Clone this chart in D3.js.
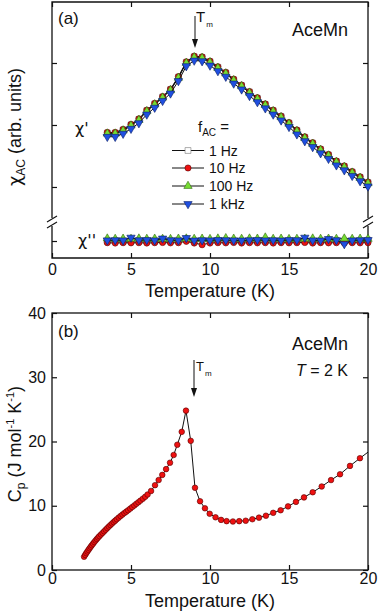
<!DOCTYPE html>
<html>
<head>
<meta charset="utf-8">
<script src="https://cdnjs.cloudflare.com/ajax/libs/d3/7.8.5/d3.min.js"></script>
<style>
body { margin: 0; background: #fff; }
text { font-family: "Liberation Sans", Arial, sans-serif; fill: #111; }
.greek { font-family: "DejaVu Sans", sans-serif; }
</style>
</head>
<body>
<script>
// ---------------- data ----------------

// panel (a): AC susceptibility, temperatures in K
const tempAC = [3.5, 4, 4.5, 5, 5.5, 6, 6.5, 7, 7.5, 8, 8.5, 9, 9.5, 10, 10.5, 11, 11.5,
    12, 12.5, 13, 13.5, 14, 14.5, 15, 15.5, 16, 16.5, 17, 17.5, 18, 18.5, 19, 19.5, 20];

// chi' (arb. units)
const chi1Hz = [1.87, 1.87, 1.92, 2.00, 2.09, 2.23, 2.34, 2.45, 2.57, 2.77, 3.01, 3.10, 3.09, 3.02, 2.93, 2.84, 2.73,
    2.635, 2.53, 2.43, 2.33, 2.23, 2.135, 2.03, 1.91, 1.80, 1.705, 1.605, 1.515, 1.41, 1.33, 1.24, 1.155, 1.07];
const chi10Hz = [1.88, 1.88, 1.93, 2.01, 2.10, 2.24, 2.35, 2.46, 2.58, 2.78, 3.02, 3.11, 3.10, 3.03, 2.94, 2.85, 2.74,
    2.645, 2.54, 2.44, 2.34, 2.24, 2.145, 2.04, 1.92, 1.81, 1.715, 1.615, 1.525, 1.42, 1.34, 1.25, 1.165, 1.08];
const chi100Hz = [1.86, 1.86, 1.91, 1.99, 2.08, 2.22, 2.33, 2.44, 2.56, 2.76, 3.00, 3.09, 3.08, 3.01, 2.92, 2.83, 2.72,
    2.625, 2.52, 2.42, 2.32, 2.22, 2.125, 2.02, 1.90, 1.79, 1.695, 1.595, 1.505, 1.40, 1.32, 1.23, 1.145, 1.06];
const chi1kHz = [1.81, 1.81, 1.86, 1.94, 2.03, 2.17, 2.28, 2.39, 2.51, 2.71, 2.95, 3.04, 3.03, 2.96, 2.87, 2.78, 2.67,
    2.575, 2.47, 2.37, 2.27, 2.17, 2.075, 1.97, 1.85, 1.74, 1.645, 1.545, 1.455, 1.35, 1.27, 1.18, 1.095, 1.01];

// chi'' (arb. units, drawn below the axis break)
const chi2_1Hz = [0, 0.02, -0.02, 0, 0.01, -0.01, 0, 0.02, 0, 0.05, 0.08, 0, 0, -0.01, 0.02, 0, 0.01,
    -0.02, 0, 0.01, 0, -0.01, 0.02, 0, 0.03, 0, -0.02, 0.01, 0, 0.02, 0, -0.01, 0.03, 0.05];
const chi2_10Hz = [-0.1, -0.12, -0.1, -0.11, -0.1, -0.12, -0.1, -0.09, -0.11, -0.1, -0.02, -0.12, -0.22, -0.12, -0.1, -0.11, -0.09,
    -0.12, -0.1, -0.11, -0.1, -0.12, -0.1, -0.11, -0.1, -0.09, -0.12, -0.1, -0.11, -0.1, -0.12, -0.1, -0.11, -0.1];
const chi2_100Hz = [0.14, 0.12, 0.13, 0.12, 0.14, 0.12, 0.13, 0.12, 0.11, 0.13, 0.14, 0.12, 0.13, 0.11, 0.14, 0.16, 0.13,
    0.12, 0.14, 0.13, 0.2, 0.12, 0.13, 0.11, 0.12, 0.13, 0.14, 0.12, 0.13, 0.12, 0.14, 0.12, 0.13, 0.12];
const chi2_1kHz = [0.04, 0.05, 0.04, 0.2, 0.05, 0.06, 0.04, 0.15, 0.05, 0.04, 0.18, 0.03, 0.05, 0.04, 0.06, 0.05, 0.04,
    0.03, 0.05, 0.06, 0.04, 0.05, 0.03, 0.06, 0.05, 0.2, 0.04, 0.03, 0.12, 0.05, -0.18, 0.04, 0.05, 0.06];

const freqLabels = ['1 Hz', '10 Hz', '100 Hz', '1 kHz'];

// panel (b): heat capacity
const tempCp = [2.03, 2.10, 2.17, 2.24, 2.31, 2.38, 2.45, 2.52, 2.60, 2.68, 2.76, 2.84, 2.92, 3.00,
    3.10, 3.20, 3.30, 3.40, 3.50, 3.60, 3.70, 3.80, 3.90, 4.00, 4.10, 4.22, 4.34, 4.46, 4.58, 4.70,
    4.82, 4.95, 5.08, 5.21, 5.34, 5.47, 5.60, 5.75, 5.90, 6.05, 6.27, 6.52, 6.75, 6.98, 7.22, 7.47,
    7.70, 7.93, 8.21, 8.48, 8.78, 9.05, 9.37, 9.68, 9.98, 10.35, 10.7, 11.05, 11.45, 11.85, 12.26,
    12.68, 13.1, 13.54, 14.0, 14.47, 14.94, 15.44, 15.95, 16.5, 17.07, 17.66, 18.23, 18.86, 19.49, 20.3];
const cp = [2.07, 2.35, 2.62, 2.88, 3.13, 3.38, 3.62, 3.85, 4.1, 4.35, 4.6, 4.83, 5.05, 5.27,
    5.52, 5.77, 6.02, 6.27, 6.52, 6.76, 7.0, 7.23, 7.46, 7.68, 7.9, 8.15, 8.4, 8.63, 8.86, 9.08,
    9.3, 9.55, 9.8, 10.05, 10.3, 10.55, 10.8, 11.1, 11.4, 11.75, 12.3, 13.2, 14.0, 14.8, 15.7, 16.7,
    17.9, 19.5, 21.5, 24.8, 20.1, 12.8, 10.7, 9.6, 8.75, 8.2, 7.8, 7.6, 7.55, 7.6, 7.67,
    7.9, 8.15, 8.45, 8.9, 9.3, 9.9, 10.6, 11.3, 12.1, 13.0, 14.0, 14.9, 16.2, 17.4, 18.9];

const xTicks = [0, 5, 10, 15, 20];
const cpTicks = [0, 10, 20, 30, 40];

// ---------------- svg setup ----------------

const svg = d3.select('body')
    .append('svg')
    .attr('width', 378)
    .attr('height', 611);

const left = 52, right = 368;
const panelA = { top: 2, brk: 222, bottom: 258 };
const panelB = { top: 313, bottom: 570 };

const x = d3.scaleLinear().domain([0, 20]).range([left, right]);

// upper part of (a) (chi') and lower part below the break (chi'')
const yChi = d3.scaleLinear().domain([0.435, 3.984]).range([panelA.brk, panelA.top]);
const yChi2 = d3.scaleLinear().domain([-1, 1.118]).range([panelA.bottom, panelA.brk]);
const yCp = d3.scaleLinear().domain([0, 40]).range([panelB.bottom, panelB.top]);

const colors = ['#ffffff', '#ee1111', '#77dd33', '#1f4fe0'];
const strokes = ['#777777', '#550000', '#336611', '#0a1f66'];
const shapes = [
    d3.symbol().type(d3.symbolSquare).size(34)(),
    d3.symbol().type(d3.symbolCircle).size(30)(),
    d3.symbol().type(d3.symbolTriangle).size(30)(),
    d3.symbol().type(d3.symbolTriangle).size(30)()
];
const rot = [0, 0, 0, 180];

// helper for inward ticks without the domain line
const styleAxis = g => {
    g.select('.domain').remove();
    g.selectAll('.tick line').attr('stroke', '#111').attr('stroke-width', 1.2);
    g.selectAll('.tick text')
        .attr('font-size', 16)
        .attr('font-family', '"Liberation Sans", Arial, sans-serif')
        .attr('fill', '#111');
};

// ---------------- panel (a) ----------------

const gA = svg.append('g');

// axes
gA.append('g').attr('transform', `translate(0,${panelA.bottom})`)
    .call(d3.axisBottom(x).tickValues(xTicks).tickSizeInner(-5).tickSizeOuter(0).tickPadding(6))
    .call(styleAxis);
gA.append('g').attr('transform', `translate(0,${panelA.top})`)
    .call(d3.axisTop(x).tickValues(xTicks).tickSizeInner(-5).tickSizeOuter(0).tickFormat(''))
    .call(styleAxis);
gA.append('g').attr('transform', `translate(${left},0)`)
    .call(d3.axisLeft(yChi).tickValues([1, 2, 3]).tickSizeInner(-5).tickSizeOuter(0).tickFormat(''))
    .call(styleAxis);
gA.append('g').attr('transform', `translate(${right},0)`)
    .call(d3.axisRight(yChi).tickValues([1, 2, 3]).tickSizeInner(-5).tickSizeOuter(0).tickFormat(''))
    .call(styleAxis);
gA.append('g').attr('transform', `translate(${left},0)`)
    .call(d3.axisLeft(yChi2).tickValues([0]).tickSizeInner(-5).tickSizeOuter(0).tickFormat(''))
    .call(styleAxis);
gA.append('g').attr('transform', `translate(${right},0)`)
    .call(d3.axisRight(yChi2).tickValues([0]).tickSizeInner(-5).tickSizeOuter(0).tickFormat(''))
    .call(styleAxis);

// frame with a gap at the break
const frame = d3.path();
frame.moveTo(left, panelA.brk - 4); frame.lineTo(left, panelA.top); frame.lineTo(right, panelA.top); frame.lineTo(right, panelA.brk - 4);
frame.moveTo(left, panelA.brk + 4); frame.lineTo(left, panelA.bottom); frame.lineTo(right, panelA.bottom); frame.lineTo(right, panelA.brk + 4);
gA.append('path').attr('d', frame.toString()).attr('fill', 'none').attr('stroke', '#111').attr('stroke-width', 1.3);

// break marks
[left, right].forEach(xb => {
    [-3, 3].forEach(off => {
        gA.append('line')
            .attr('x1', xb - 5).attr('y1', panelA.brk + off + 3)
            .attr('x2', xb + 5).attr('y2', panelA.brk + off - 3)
            .attr('stroke', '#111').attr('stroke-width', 1.1);
    });
});

// series: chi' and chi''
const chiSets = [chi1Hz, chi10Hz, chi100Hz, chi1kHz];
const chi2Sets = [chi2_1Hz, chi2_10Hz, chi2_100Hz, chi2_1kHz];

const drawSeries = (g, xs, ys, yScale, i) => {
    const pts = xs.map((t, k) => [x(t), yScale(ys[k])]);
    g.append('path')
        .attr('d', d3.line()(pts))
        .attr('fill', 'none')
        .attr('stroke', '#111')
        .attr('stroke-width', 1);
    g.selectAll(null)
        .data(pts)
        .enter()
        .append('path')
        .attr('d', shapes[i])
        .attr('transform', d => `translate(${d[0]},${d[1]}) rotate(${rot[i]})`)
        .attr('fill', colors[i])
        .attr('stroke', strokes[i])
        .attr('stroke-width', 0.6);
};

chiSets.forEach((s, i) => drawSeries(gA, tempAC, s, yChi, i));
chi2Sets.forEach((s, i) => drawSeries(gA, tempAC, s, yChi2, i));

// legend
const legY = [150.5, 168, 186, 204];
const fac = gA.append('text').attr('x', 198).attr('y', 132).attr('font-size', 15);
fac.append('tspan').text('f');
fac.append('tspan').attr('font-size', 10).attr('dy', 4).text('AC');
fac.append('tspan').attr('dy', -4).text(' =');

freqLabels.forEach((lab, i) => {
    gA.append('line')
        .attr('x1', 172).attr('x2', 204)
        .attr('y1', legY[i]).attr('y2', legY[i])
        .attr('stroke', '#111').attr('stroke-width', 1);
    gA.append('path')
        .attr('d', shapes[i])
        .attr('transform', `translate(188,${legY[i]}) rotate(${rot[i]})`)
        .attr('fill', colors[i])
        .attr('stroke', strokes[i])
        .attr('stroke-width', 0.6);
    gA.append('text')
        .attr('x', 209).attr('y', legY[i] + 5)
        .attr('font-size', 14)
        .text(lab);
});

// annotations
gA.append('text').attr('x', 58).attr('y', 24).attr('font-size', 17).text('(a)');
gA.append('text').attr('x', 348).attr('y', 36).attr('text-anchor', 'end').attr('font-size', 18).text('AceMn');
gA.append('text').attr('class', 'greek').attr('x', 75).attr('y', 134).attr('font-size', 16).text('χ\'');
gA.append('text').attr('class', 'greek').attr('x', 78).attr('y', 246).attr('font-size', 16).text('χ\'\'');

// T_m arrow
const arrow = (g, xa, y1, y2) => {
    g.append('line').attr('x1', xa).attr('x2', xa).attr('y1', y1).attr('y2', y2 - 6)
        .attr('stroke', '#111').attr('stroke-width', 1);
    g.append('path')
        .attr('d', `M${xa - 3},${y2 - 9}L${xa + 3},${y2 - 9}L${xa},${y2}Z`)
        .attr('fill', '#111');
};
arrow(gA, 195, 16, 48);
const tmA = gA.append('text').attr('x', 196).attr('y', 22).attr('font-size', 15);
tmA.append('tspan').text('T');
tmA.append('tspan').attr('font-size', 8).attr('dy', 5).attr('dx', 1).text('m');

// axis titles
const yTitleA = gA.append('text')
    .attr('transform', 'translate(21,127) rotate(-90)')
    .attr('text-anchor', 'middle')
    .attr('font-size', 18);
yTitleA.append('tspan').attr('class', 'greek').text('χ');
yTitleA.append('tspan').attr('font-size', 12).attr('dy', 4).text('AC');
yTitleA.append('tspan').attr('dy', -4).text(' (arb. units)');

gA.append('text').attr('x', (left + right) / 2).attr('y', 297)
    .attr('text-anchor', 'middle').attr('font-size', 18).text('Temperature (K)');

// ---------------- panel (b) ----------------

const gB = svg.append('g');

gB.append('g').attr('transform', `translate(0,${panelB.bottom})`)
    .call(d3.axisBottom(x).tickValues(xTicks).tickSizeInner(-5).tickSizeOuter(0).tickPadding(3))
    .call(styleAxis);
gB.append('g').attr('transform', `translate(0,${panelB.top})`)
    .call(d3.axisTop(x).tickValues(xTicks).tickSizeInner(-5).tickSizeOuter(0).tickFormat(''))
    .call(styleAxis);
gB.append('g').attr('transform', `translate(${left},0)`)
    .call(d3.axisLeft(yCp).tickValues(cpTicks).tickSizeInner(-5).tickSizeOuter(0).tickPadding(6))
    .call(styleAxis);
gB.append('g').attr('transform', `translate(${right},0)`)
    .call(d3.axisRight(yCp).tickValues(cpTicks).tickSizeInner(-5).tickSizeOuter(0).tickFormat(''))
    .call(styleAxis);

gB.append('rect')
    .attr('x', left).attr('y', panelB.top)
    .attr('width', right - left).attr('height', panelB.bottom - panelB.top)
    .attr('fill', 'none').attr('stroke', '#111').attr('stroke-width', 1.3);

// clip the data to the frame
svg.append('clipPath').attr('id', 'clipB')
    .append('rect')
    .attr('x', left).attr('y', panelB.top)
    .attr('width', right - left).attr('height', panelB.bottom - panelB.top);

const dataB = gB.append('g').attr('clip-path', 'url(#clipB)');
const cpPts = tempCp.map((t, k) => [x(t), yCp(cp[k])]);

dataB.append('path')
    .attr('d', d3.line()(cpPts))
    .attr('fill', 'none')
    .attr('stroke', '#111')
    .attr('stroke-width', 1);

dataB.selectAll('circle')
    .data(cpPts)
    .enter()
    .append('circle')
    .attr('cx', d => d[0])
    .attr('cy', d => d[1])
    .attr('r', 2.8)
    .attr('fill', '#ee1111')
    .attr('stroke', '#550000')
    .attr('stroke-width', 0.6);

gB.append('text').attr('x', 58).attr('y', 337).attr('font-size', 17).text('(b)');
gB.append('text').attr('x', 348).attr('y', 350).attr('text-anchor', 'end').attr('font-size', 18).text('AceMn');
const tLab = gB.append('text').attr('x', 348).attr('y', 376).attr('text-anchor', 'end').attr('font-size', 16);
tLab.append('tspan').attr('font-style', 'italic').text('T');
tLab.append('tspan').text(' = 2 K');

arrow(gB, 194, 360, 397);
const tmB = gB.append('text').attr('x', 196).attr('y', 371).attr('font-size', 13);
tmB.append('tspan').text('T');
tmB.append('tspan').attr('font-size', 8).attr('dy', 5).attr('dx', 1).text('m');

const yTitleB = gB.append('text')
    .attr('transform', 'translate(21,444) rotate(-90)')
    .attr('text-anchor', 'middle')
    .attr('font-size', 18);
yTitleB.append('tspan').text('C');
yTitleB.append('tspan').attr('font-size', 12).attr('dy', 4).text('p');
yTitleB.append('tspan').attr('dy', -4).text(' (J mol');
yTitleB.append('tspan').attr('font-size', 11).attr('dy', -7).text('-1');
yTitleB.append('tspan').attr('dy', 7).text(' K');
yTitleB.append('tspan').attr('font-size', 11).attr('dy', -7).text('-1');
yTitleB.append('tspan').attr('dy', 7).text(')');

gB.append('text').attr('x', (left + right) / 2).attr('y', 607)
    .attr('text-anchor', 'middle').attr('font-size', 18).text('Temperature (K)');
</script>
</body>
</html>
